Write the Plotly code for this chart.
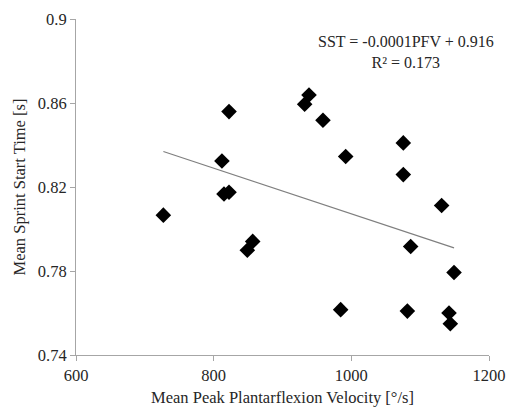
import plotly.graph_objects as go

# Data
pfv = [726.9, 812.0, 822.3, 815.0, 822.3, 848.9, 856.7, 932.2, 938.5, 958.8,
       991.8, 984.5, 1075.5, 1075.5, 1086.2, 1081.4, 1131.2, 1149.2, 1141.9, 1143.8]
sst = [0.8066, 0.8324, 0.8559, 0.8167, 0.8175, 0.7899, 0.7941, 0.8594, 0.8638, 0.8518,
       0.8345, 0.7616, 0.8410, 0.8259, 0.7917, 0.7609, 0.8112, 0.7793, 0.7600, 0.7549]

trend_slope = -0.0001087
trend_intercept = 0.9159
trend_x = [min(pfv), max(pfv)]
trend_y = [trend_intercept + trend_slope * v for v in trend_x]

x_ticks = [600, 800, 1000, 1200]
y_ticks = [0.74, 0.78, 0.82, 0.86, 0.9]
y_tick_text = ["0.74", "0.78", "0.82", "0.86", "0.9"]

equation_text = "SST = -0.0001PFV + 0.916<br>R² = 0.173"

font_family = "Liberation Serif, Times New Roman, serif"
text_color = "#262626"
axis_color = "#a6a6a6"
fs = 16.5

fig = go.Figure()
fig.add_trace(go.Scatter(
    x=trend_x, y=trend_y, mode="lines",
    line=dict(color="#7f7f7f", width=1.2),
    showlegend=False, hoverinfo="skip"))
fig.add_trace(go.Scatter(
    x=pfv, y=sst, mode="markers",
    marker=dict(symbol="diamond", size=12, color="black"),
    showlegend=False))

fig.add_annotation(
    x=1080, y=0.8842, xref="x", yref="y", text=equation_text,
    showarrow=False, xanchor="center", yanchor="middle", align="center",
    font=dict(family=font_family, size=16, color=text_color))

fig.update_layout(
    width=507, height=407,
    margin=dict(l=76, r=18, t=19, b=52),
    paper_bgcolor="white", plot_bgcolor="white",
    font=dict(family=font_family, size=fs, color=text_color),
    xaxis=dict(
        range=[600, 1200], tickvals=x_ticks, showgrid=False, zeroline=False,
        automargin=False,
        showline=True, linecolor=axis_color, linewidth=1,
        ticks="outside", ticklen=5, tickcolor=axis_color,
        tickfont=dict(family=font_family, size=fs, color=text_color),
        title=dict(text="Mean Peak Plantarflexion Velocity [°/s]", standoff=8,
                   font=dict(family=font_family, size=fs, color=text_color))),
    yaxis=dict(
        range=[0.74, 0.9], tickvals=y_ticks, ticktext=y_tick_text,
        showgrid=False, zeroline=False, automargin=False,
        showline=True, linecolor=axis_color, linewidth=1,
        ticks="outside", ticklen=5, tickcolor=axis_color,
        tickfont=dict(family=font_family, size=fs, color=text_color),
        title=dict(text="Mean Sprint Start Time [s]", standoff=8,
                   font=dict(family=font_family, size=fs, color=text_color))),
)

fig.write_html("out.html", config={"displayModeBar": False},
               post_script="document.body.style.margin='0';")
